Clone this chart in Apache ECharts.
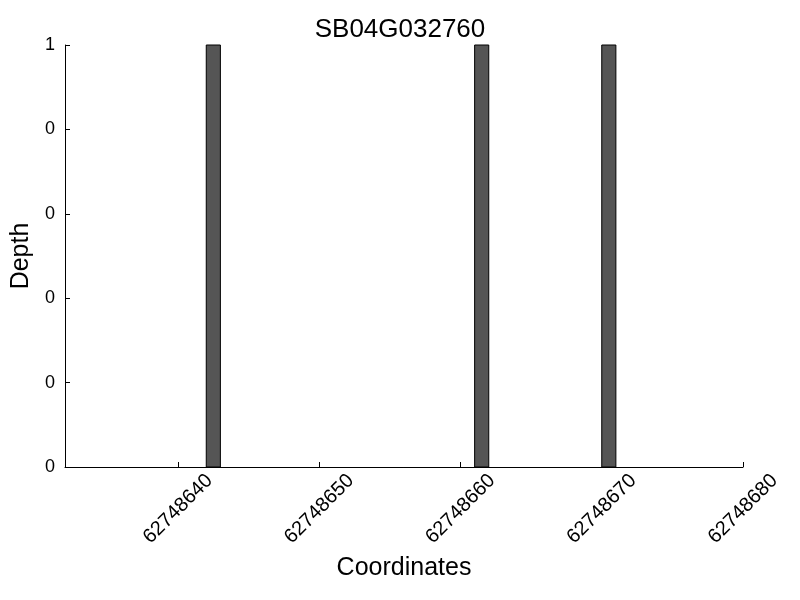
<!DOCTYPE html>
<html><head><meta charset="utf-8">
<script src="https://cdn.jsdelivr.net/npm/echarts@6/dist/echarts.min.js"></script>
<style>html,body{margin:0;padding:0;background:#fff}#c{width:800px;height:600px}</style>
</head><body><div id="c"></div>
<script>
const title = "SB04G032760";
const binStarts = [62748642, 62748661, 62748670];
const binEnds = [62748643, 62748662, 62748671];
const depths = [1, 1, 1];
const xTicks = [62748640, 62748650, 62748660, 62748670, 62748680];
const yTicks = [0, 0.2, 0.4, 0.6, 0.8, 1];

const data = binStarts.map((s, i) => [s, binEnds[i], depths[i]]);
const FONT = "Liberation Sans";
const chart = echarts.init(document.getElementById('c'), null, {renderer: 'canvas'});
chart.setOption({
  animation: false,
  backgroundColor: '#fff',
  title: {text: title, left: 'center', top: 12, textStyle: {fontFamily: FONT, fontSize: 26, fontWeight: 'normal', color: '#000'}},
  grid: {left: 65, right: 57, top: 45, bottom: 133, outerBoundsMode: 'none', containLabel: false},
  xAxis: {
    type: 'value', min: 62748632, max: 62748680,
    name: 'Coordinates', nameLocation: 'middle', nameGap: 89,
    nameTextStyle: {fontFamily: FONT, fontSize: 25, color: '#000'},
    axisLine: {show: true, lineStyle: {color: '#000', width: 1}},
    axisTick: {show: true, inside: true, length: 5, customValues: xTicks, lineStyle: {color: '#000'}},
    axisLabel: {customValues: xTicks, rotate: 45, align: 'center', verticalAlign: 'middle', margin: 42,
      fontFamily: FONT, fontSize: 20, color: '#000', formatter: v => String(v)},
    splitLine: {show: false}
  },
  yAxis: {
    type: 'value', min: 0, max: 1, interval: 0.2,
    name: 'Depth', nameLocation: 'middle', nameGap: 29,
    nameTextStyle: {fontFamily: FONT, fontSize: 25, color: '#000'},
    axisLine: {show: true, lineStyle: {color: '#000', width: 1}},
    axisTick: {show: true, inside: true, length: 5, customValues: yTicks, lineStyle: {color: '#000'}},
    axisLabel: {customValues: yTicks, fontFamily: FONT, fontSize: 18, color: '#000', margin: 10,
      formatter: v => String(Math.floor(v + 1e-9))},
    splitLine: {show: false}
  },
  series: [{
    type: 'custom',
    data: data,
    encode: {x: [0, 1], y: 2},
    renderItem: function (params, api) {
      const p0 = api.coord([api.value(0), api.value(2)]);
      const p1 = api.coord([api.value(1), 0]);
      return {
        type: 'rect',
        shape: {x: p0[0], y: p0[1], width: p1[0] - p0[0], height: p1[1] - p0[1]},
        style: {fill: '#555555', stroke: '#000', lineWidth: 1}
      };
    }
  }]
});
</script></body></html>
